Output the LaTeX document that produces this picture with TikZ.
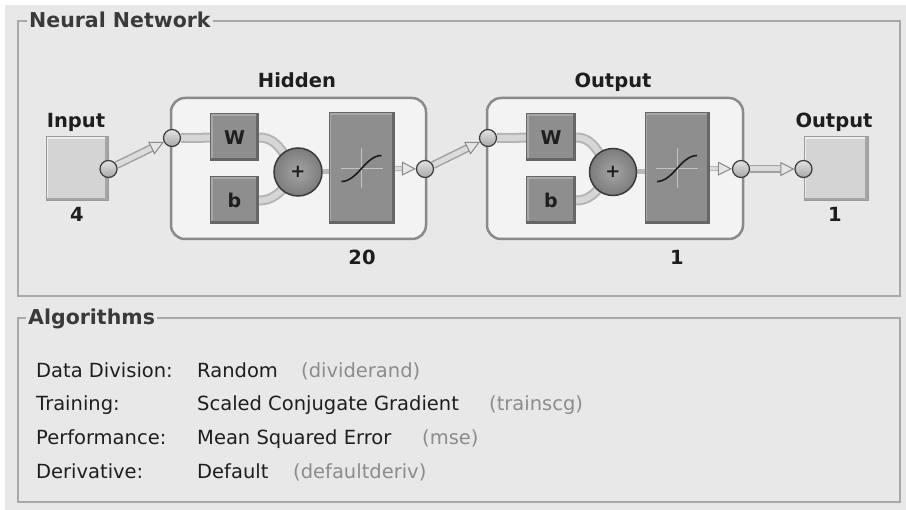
\documentclass[tikz,border=0pt]{standalone}
\usepackage{fontspec}
\setmainfont{DejaVu Sans}
\usetikzlibrary{arrows.meta,calc}

\definecolor{panel}{HTML}{E8E8E8}
\definecolor{frameline}{HTML}{A8A8A8}
\definecolor{textdark}{HTML}{1E1E1E}
\definecolor{textgray}{HTML}{8C8C8C}
\definecolor{titletext}{HTML}{3A3A3A}
\definecolor{layerfill}{HTML}{F3F3F3}
\definecolor{layerline}{HTML}{8A8A8A}
\definecolor{lightbox}{HTML}{D4D4D4}
\definecolor{darkfill}{HTML}{8E8E8E}
\definecolor{bandout}{HTML}{A0A0A0}
\definecolor{bandin}{HTML}{DCDCDC}
\definecolor{tipline}{HTML}{8A8A8A}
\definecolor{tipfill}{HTML}{E6E6E6}
\definecolor{lightedge}{HTML}{9A9A9A}
\definecolor{lighthi}{HTML}{EEEEEE}
\definecolor{lightlo}{HTML}{A6A6A6}
\definecolor{darkedge}{HTML}{666666}
\definecolor{darkhi}{HTML}{A8A8A8}
\definecolor{portedge}{HTML}{3A3A3A}
\definecolor{porttop}{HTML}{E2E2E2}
\definecolor{portbot}{HTML}{A8A8A8}
\definecolor{suminner}{HTML}{A4A4A4}
\definecolor{sumouter}{HTML}{7C7C7C}
\definecolor{wireout}{HTML}{B4B4B4}
\definecolor{wirein}{HTML}{D6D6D6}
\definecolor{thinwire}{HTML}{B8B8B8}
\definecolor{crosscol}{HTML}{C4C4C4}
\definecolor{curvecol}{HTML}{1C1C1C}

\pgfdeclarelayer{back}
\pgfdeclarelayer{mid}
\pgfsetlayers{back,mid,main}

\begin{document}
\begin{tikzpicture}[x=1pt,y=-1pt,
  grouptitle/.style={fill=panel, inner xsep=2pt, inner ysep=1pt, text=titletext,
    font=\bfseries\fontsize{20.5}{22}\selectfont},
  lbl/.style={anchor=base, text=textdark, font=\bfseries\fontsize{19.5}{22}\selectfont},
  rowtext/.style={anchor=base west, text=textdark, inner sep=0pt, font=\fontsize{19.5}{22}\selectfont},
  rowgray/.style={rowtext, text=textgray},
  layerbox/.style={draw=layerline, line width=2.5pt, fill=layerfill, rounded corners=14pt},
  lightblock/.style={draw=lightedge, line width=1pt, fill=lightbox, inner sep=0pt,
    path picture={
      \draw[color=lighthi, line width=4pt] (path picture bounding box.south west) -- (path picture bounding box.north west) -- (path picture bounding box.north east);
      \draw[color=lightlo, line width=6pt] (path picture bounding box.north east) -- (path picture bounding box.south east) -- (path picture bounding box.south west);}},
  darkblock/.style={draw=darkedge, line width=1pt, fill=darkfill, inner sep=0pt,
    font=\bfseries\fontsize{19}{19}\selectfont, text=textdark,
    path picture={
      \draw[color=darkhi, line width=4pt] (path picture bounding box.south west) -- (path picture bounding box.north west) -- (path picture bounding box.north east);
      \draw[color=darkedge, line width=5pt] (path picture bounding box.north east) -- (path picture bounding box.south east) -- (path picture bounding box.south west);}},
  port/.style={circle, draw=portedge, line width=1.2pt, minimum size=17pt, inner sep=0pt,
    top color=porttop, bottom color=portbot},
  summer/.style={circle, draw=portedge, line width=1.5pt, minimum size=48pt, inner sep=0pt,
    inner color=suminner, outer color=sumouter, text=textdark,
    font=\bfseries\fontsize{18}{18}\selectfont},
  bandedge/.style={draw=bandout, line width=8pt},
  bandcore/.style={draw=bandin, line width=5pt,
    -{Triangle[length=14pt, width=14pt, color=tipline, fill=tipfill, line width=1pt]}},
  shortcore/.style={draw=bandin, line width=3pt,
    -{Triangle[length=14pt, width=14pt, color=tipline, fill=tipfill, line width=1pt]}},
  inedge/.style={draw=wireout, line width=10pt},
  incore/.style={draw=wirein, line width=6pt},
  thinband/.style={draw=thinwire, line width=5pt},
  crossline/.style={draw=crosscol, line width=1pt},
  sigmoid/.style={draw=curvecol, line width=1.6pt}
]
\useasboundingbox (0,0) rectangle (906,510);

\begin{pgfonlayer}{back}
  % window background and group frames
  \fill[white] (0,0) rectangle (906,510);
  \fill[panel] (5,5) rectangle (906,510);
  \draw[frameline, line width=1.3pt] (18,21) rectangle (900,296);
  \draw[frameline, line width=1.3pt] (18,318) rectangle (900,502);
  % layer containers
  \node[layerbox, minimum width=255pt, minimum height=141pt] (hidden) at (298.5,168.5) {};
  \node[layerbox, minimum width=256pt, minimum height=141pt] (outlayer) at (615,168.5) {};
\end{pgfonlayer}

% group titles
\node[grouptitle, anchor=base west] (nntitle) at (27,27.5) {Neural Network};
\node[grouptitle, anchor=base west] (algtitle) at (26,325) {Algorithms};

% input block
\node[lightblock, minimum width=62pt, minimum height=64pt] (inbox) at (77,169) {};
\node[port] (inport) at (inbox.east) {};
\node[lbl] (inlbl) at (76,127.3) {Input};
\node[lbl] (insize) at (77,221.7) {4};

% hidden layer
\node[lbl] (hidlbl) at (297,87.3) {Hidden};
\node[port] (hin) at (172,138) {};
\node[darkblock, minimum width=48pt, minimum height=47pt] (W1) at (234.5,137.5) {W};
\node[darkblock, minimum width=48pt, minimum height=47pt] (b1) at (234.5,200.5) {b};
\node[summer] (sum1) at (298,172) {+};
\node[darkblock, minimum width=65pt, minimum height=111pt] (tf1) at (361.5,168.5) {};
\draw[crossline] ($(tf1.center)+(-21,0)$) -- ($(tf1.center)+(21,0)$);
\draw[crossline] ($(tf1.center)+(0,-20)$) -- ($(tf1.center)+(0,20)$);
\draw[sigmoid] ($(tf1.center)+(-20,13)$) .. controls ($(tf1.center)+(-4,13)$) and ($(tf1.center)+(4,-13)$) .. ($(tf1.center)+(20,-13)$);
\node[port] (hout) at (425,169) {};
\node[lbl] (hidsize) at (362,265) {20};

% output layer
\node[lbl] (outlbl) at (613,87.3) {Output};
\node[port] (oin) at (488,138) {};
\node[darkblock, minimum width=49pt, minimum height=47pt] (W2) at (551,137.5) {W};
\node[darkblock, minimum width=49pt, minimum height=47pt] (b2) at (551,200.5) {b};
\node[summer, minimum size=47pt] (sum2) at (613,172) {+};
\node[darkblock, minimum width=64pt, minimum height=111pt] (tf2) at (677,168.5) {};
\draw[crossline] ($(tf2.center)+(-21,0)$) -- ($(tf2.center)+(21,0)$);
\draw[crossline] ($(tf2.center)+(0,-20)$) -- ($(tf2.center)+(0,20)$);
\draw[sigmoid] ($(tf2.center)+(-20,13)$) .. controls ($(tf2.center)+(-4,13)$) and ($(tf2.center)+(4,-13)$) .. ($(tf2.center)+(20,-13)$);
\node[port] (oout) at (741,169) {};
\node[lbl] (outsize) at (677,265) {1};

% output block
\node[lightblock, minimum width=64pt, minimum height=64pt] (outbox) at (836,169) {};
\node[port] (outport) at (outbox.west) {};
\node[lbl] (outboxlbl) at (834,127.7) {Output};
\node[lbl] (outboxsize) at (835,221.7) {1};

% connectors
\begin{pgfonlayer}{mid}
  % between blocks
  \draw[bandedge, shorten >=12pt] (inport) -- (hin);
  \draw[bandcore] (inport) -- (hin);
  \draw[bandedge, shorten >=12pt] (hout) -- (oin);
  \draw[bandcore] (hout) -- (oin);
  \draw[bandedge, shorten >=12pt] (oout) -- (outport);
  \draw[bandcore] (oout) -- (outport);
  \draw[thinband, shorten >=10pt] (tf1.east) -- (hout);
  \draw[shortcore] (tf1.east) -- (hout);
  \draw[thinband, shorten >=10pt] (tf2.east) -- (oout);
  \draw[shortcore] (tf2.east) -- (oout);
  % inside the hidden layer
  \draw[inedge] (hin) -- (W1);
  \draw[incore] (hin) -- (W1);
  \draw[inedge] (W1.east) to[out=0, in=135] (sum1.center);
  \draw[incore] (W1.east) to[out=0, in=135] (sum1.center);
  \draw[inedge] (b1.east) to[out=0, in=225] (sum1.center);
  \draw[incore] (b1.east) to[out=0, in=225] (sum1.center);
  \draw[thinband] (sum1) -- (tf1.west |- sum1);
  % inside the output layer
  \draw[inedge] (oin) -- (W2);
  \draw[incore] (oin) -- (W2);
  \draw[inedge] (W2.east) to[out=0, in=135] (sum2.center);
  \draw[incore] (W2.east) to[out=0, in=135] (sum2.center);
  \draw[inedge] (b2.east) to[out=0, in=225] (sum2.center);
  \draw[incore] (b2.east) to[out=0, in=225] (sum2.center);
  \draw[thinband] (sum2) -- (tf2.west |- sum2);
\end{pgfonlayer}

% algorithm summary
\node[rowtext] (r1a) at (36,378) {Data Division:};
\node[rowtext] (r1b) at (197,378) {Random};
\node[rowgray] (r1c) at (301,378) {(dividerand)};
\node[rowtext] (r2a) at (36,411) {Training:};
\node[rowtext] (r2b) at (197,411) {Scaled Conjugate Gradient};
\node[rowgray] (r2c) at (489,411) {(trainscg)};
\node[rowtext] (r3a) at (36,445) {Performance:};
\node[rowtext] (r3b) at (197,445) {Mean Squared Error};
\node[rowgray] (r3c) at (422,445) {(mse)};
\node[rowtext] (r4a) at (36,479) {Derivative:};
\node[rowtext] (r4b) at (197,479) {Default};
\node[rowgray] (r4c) at (293,479) {(defaultderiv)};
\end{tikzpicture}
\end{document}
